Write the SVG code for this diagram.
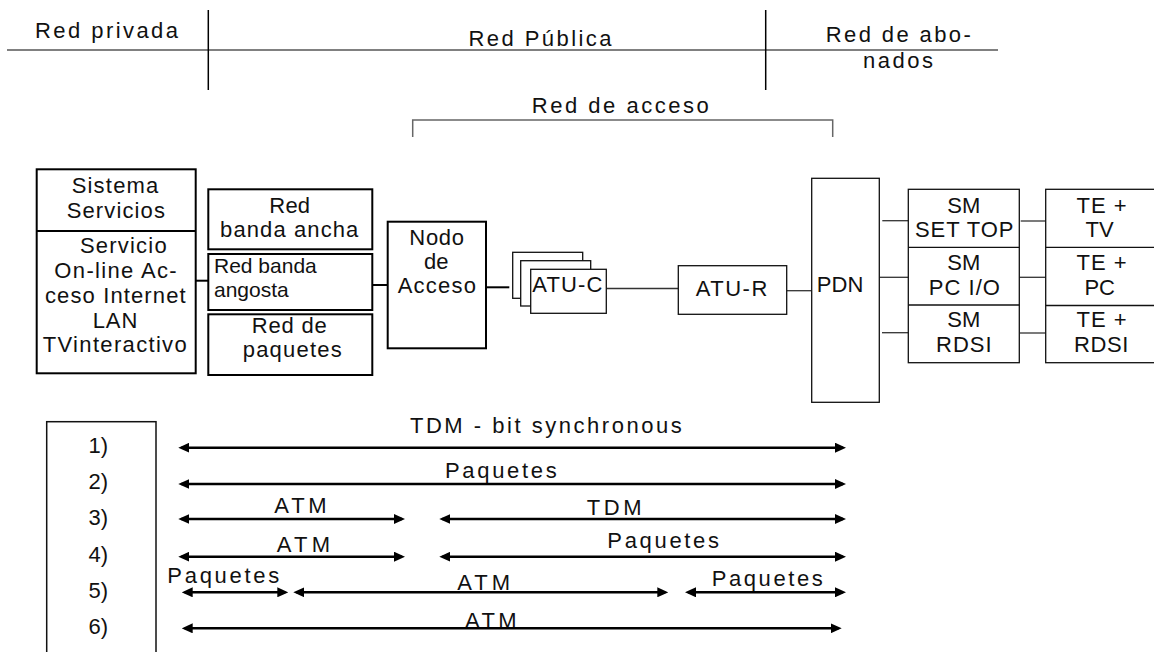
<svg xmlns="http://www.w3.org/2000/svg" width="1154" height="652" viewBox="0 0 1154 652">
  <style>
    text { font-family: "Liberation Sans", Arial, sans-serif; font-size: 22px; fill: #111; }
    .c { text-anchor: middle; }
    .plain { font-size: 21px; }
    .box { fill: #fff; stroke: #000; stroke-width: 2; }
    .thin { fill: #fff; stroke: #111; stroke-width: 1.3; }
    .link { stroke: #000; stroke-width: 2; fill: none; }
    .wire { stroke: #333; stroke-width: 1.3; fill: none; }
    .arr { stroke: #000; stroke-width: 2.6; fill: none; marker-start: url(#ah); marker-end: url(#ah); }
  </style>
  <defs>
    <marker id="ah" viewBox="0 0 11 10" markerWidth="11" markerHeight="10" refX="8" refY="5" markerUnits="userSpaceOnUse" orient="auto-start-reverse">
      <path d="M0,0 L11,5 L0,10 z" fill="#000"/>
    </marker>
  </defs>
  <rect width="1154" height="652" fill="#fff"/>

  <!-- header: network zones -->
  <g id="zones">
    <line x1="7" y1="50" x2="998" y2="50" stroke="#808080" stroke-width="2"/>
    <line x1="208.3" y1="10" x2="208.3" y2="90" stroke="#000" stroke-width="1.5"/>
    <line x1="765.7" y1="10" x2="765.7" y2="90" stroke="#000" stroke-width="1.5"/>
    <text x="106.5" y="38" class="c" textLength="143" lengthAdjust="spacing">Red privada</text>
    <text x="540" y="46" class="c" textLength="143" lengthAdjust="spacing">Red Pública</text>
    <text x="898.3" y="41.7" class="c" textLength="145" lengthAdjust="spacing">Red de abo-</text>
    <text x="898" y="68" class="c" textLength="70" lengthAdjust="spacing">nados</text>
  </g>

  <g id="red-acceso">
    <polyline points="412.7,137 412.7,120 832.7,120 832.7,137" fill="none" stroke="#666" stroke-width="1.5"/>
    <text x="620.3" y="112.7" class="c" textLength="177" lengthAdjust="spacing">Red de acceso</text>
  </g>

  <!-- connectors -->
  <g id="connectors">
    <line class="link" x1="195.7" y1="280.7" x2="208.3" y2="280.7"/>
    <line class="link" x1="372.3" y1="285" x2="387.7" y2="285"/>
    <line class="link" x1="486" y1="287.3" x2="509.3" y2="287.3"/>
    <line class="wire" x1="606.3" y1="288.5" x2="678.3" y2="288.5"/>
    <line class="wire" x1="786.7" y1="290.7" x2="811.7" y2="290.7"/>
    <line class="wire" x1="882.3" y1="220.7" x2="911.7" y2="220.7"/>
    <line class="wire" x1="879.3" y1="277.3" x2="909" y2="277.3" stroke="#000"/>
    <line class="wire" x1="882" y1="332.7" x2="912" y2="332.7"/>
    <line class="wire" x1="1020.7" y1="221" x2="1050" y2="221"/>
    <line class="wire" x1="1016.7" y1="277.3" x2="1046.7" y2="277.3" stroke="#000"/>
    <line class="wire" x1="1020" y1="333" x2="1050" y2="333"/>
  </g>

  <g id="sistema-servicios">
    <rect class="box" x="36.7" y="169.3" width="159" height="204"/>
    <line x1="36.7" y1="231" x2="195.7" y2="231" stroke="#000" stroke-width="2"/>
    <text x="115" y="193" class="c" textLength="86.7" lengthAdjust="spacing">Sistema</text>
    <text x="115.8" y="218" class="c" textLength="98.3" lengthAdjust="spacing">Servicios</text>
    <text x="123.3" y="253.3" class="c" textLength="86.7" lengthAdjust="spacing">Servicio</text>
    <text x="115.5" y="278" class="c" textLength="122.3" lengthAdjust="spacing">On-line Ac-</text>
    <text x="115.3" y="302.7" class="c" textLength="140.7" lengthAdjust="spacing">ceso Internet</text>
    <text x="115" y="327.7" class="c" textLength="44.7" lengthAdjust="spacing">LAN</text>
    <text x="114.7" y="351.7" class="c" textLength="144" lengthAdjust="spacing">TVinteractivo</text>
  </g>

  <g id="redes">
    <rect class="box" x="208.3" y="189.3" width="164" height="60"/>
    <rect class="box" x="208.3" y="254" width="164" height="56"/>
    <rect class="box" x="208.3" y="314.3" width="164" height="60.7"/>
    <text x="289.7" y="213.3" class="c" textLength="40.7" lengthAdjust="spacing">Red</text>
    <text x="289.2" y="237.3" class="c" textLength="138.3" lengthAdjust="spacing">banda ancha</text>
    <text x="214" y="273.3" class="plain">Red banda</text>
    <text x="214" y="296.7" class="plain">angosta</text>
    <text x="289.2" y="333.3" class="c" textLength="75" lengthAdjust="spacing">Red de</text>
    <text x="292.2" y="357.3" class="c" textLength="99" lengthAdjust="spacing">paquetes</text>
  </g>

  <g id="nodo-acceso">
    <rect class="box" x="387.7" y="221.7" width="98.3" height="126.6"/>
    <text x="436.7" y="245" class="c" textLength="54.7" lengthAdjust="spacing">Nodo</text>
    <text x="436.2" y="269" class="c">de</text>
    <text x="436.8" y="293.3" class="c" textLength="78.3" lengthAdjust="spacing">Acceso</text>
  </g>

  <g id="atu-c">
    <rect class="thin" x="512.7" y="252.3" width="70" height="46"/>
    <rect class="thin" x="520.7" y="260.7" width="70" height="45.3"/>
    <rect class="thin" x="530.7" y="269.3" width="75.6" height="44"/>
    <text x="567.3" y="291.7" class="c" textLength="70" lengthAdjust="spacing">ATU-C</text>
  </g>

  <g id="atu-r">
    <rect class="thin" x="678.3" y="265.7" width="108.4" height="48.6"/>
    <text x="731.5" y="295.7" class="c" textLength="71.7" lengthAdjust="spacing">ATU-R</text>
  </g>

  <g id="pdn">
    <rect class="thin" x="811.7" y="178.3" width="67.6" height="224"/>
    <text x="816.7" y="291.7" textLength="46.7" lengthAdjust="spacing">PDN</text>
  </g>

  <g id="sm">
    <rect class="thin" x="908.3" y="189.3" width="111" height="173.4"/>
    <line x1="908.3" y1="247.3" x2="1019.3" y2="247.3" stroke="#111" stroke-width="1.3"/>
    <line x1="908.3" y1="305" x2="1019.3" y2="305" stroke="#111" stroke-width="1.3"/>
    <text x="963.8" y="213.3" class="c">SM</text>
    <text x="964.2" y="236.7" class="c" textLength="98.3" lengthAdjust="spacing">SET TOP</text>
    <text x="963.8" y="270" class="c">SM</text>
    <text x="964.3" y="295" class="c" textLength="71.3" lengthAdjust="spacing">PC I/O</text>
    <text x="963.8" y="326.7" class="c">SM</text>
    <text x="963.8" y="351.7" class="c" textLength="55.7" lengthAdjust="spacing">RDSI</text>
  </g>

  <g id="te">
    <rect class="thin" x="1045.7" y="189.3" width="120" height="173.4"/>
    <line x1="1045.7" y1="247.3" x2="1160" y2="247.3" stroke="#111" stroke-width="1.3"/>
    <line x1="1045.7" y1="305.5" x2="1160" y2="305.5" stroke="#111" stroke-width="1.3"/>
    <text x="1101.5" y="213.3" class="c" textLength="50" lengthAdjust="spacing">TE +</text>
    <text x="1099.5" y="236.7" class="c">TV</text>
    <text x="1101.5" y="270" class="c" textLength="50" lengthAdjust="spacing">TE +</text>
    <text x="1099.7" y="295" class="c">PC</text>
    <text x="1101.5" y="326.7" class="c" textLength="50" lengthAdjust="spacing">TE +</text>
    <text x="1101.2" y="351.7" class="c" textLength="54.3" lengthAdjust="spacing">RDSI</text>
  </g>

  <!-- protocol options -->
  <g id="legend">
    <rect x="46.7" y="421.7" width="109.3" height="240" fill="#fff" stroke="#111" stroke-width="1.5"/>
    <text x="98.3" y="452.7" class="c">1)</text>
    <text x="98.3" y="489.3" class="c">2)</text>
    <text x="98.3" y="525" class="c">3)</text>
    <text x="98.3" y="561.7" class="c">4)</text>
    <text x="98.3" y="598.3" class="c">5)</text>
    <text x="98.3" y="634" class="c">6)</text>
  </g>

  <g id="protocol-arrows">
    <line class="arr" x1="181.3" y1="447.7" x2="843" y2="447.7"/>
    <line class="arr" x1="181.3" y1="484" x2="843" y2="484"/>
    <line class="arr" x1="181.3" y1="519" x2="402" y2="519"/>
    <line class="arr" x1="442.3" y1="519" x2="843" y2="519"/>
    <line class="arr" x1="181.3" y1="556.7" x2="402" y2="556.7"/>
    <line class="arr" x1="442.3" y1="556.7" x2="843" y2="556.7"/>
    <line class="arr" x1="184.7" y1="592.3" x2="285.3" y2="592.3"/>
    <line class="arr" x1="296.3" y1="592.3" x2="665.3" y2="592.3"/>
    <line class="arr" x1="688" y1="592.3" x2="843" y2="592.3"/>
    <text x="410" y="433.3" textLength="271.7" lengthAdjust="spacing">TDM - bit synchronous</text>
    <text x="445" y="478.3" textLength="111.7" lengthAdjust="spacing">Paquetes</text>
    <text x="274.3" y="513.3" textLength="52.4" lengthAdjust="spacing">ATM</text>
    <text x="586.7" y="515" textLength="55" lengthAdjust="spacing">TDM</text>
    <text x="276.7" y="551.7" textLength="53.3" lengthAdjust="spacing">ATM</text>
    <text x="607.3" y="548.3" textLength="111.7" lengthAdjust="spacing">Paquetes</text>
    <text x="167.3" y="582.7" textLength="112" lengthAdjust="spacing">Paquetes</text>
    <text x="457.3" y="590" textLength="52.7" lengthAdjust="spacing">ATM</text>
    <text x="711.7" y="585.7" textLength="111" lengthAdjust="spacing">Paquetes</text>
    <text x="465" y="628" textLength="51.7" lengthAdjust="spacing">ATM</text>
    <line class="arr" x1="184.7" y1="628.3" x2="838.7" y2="628.3"/>
  </g>
</svg>
